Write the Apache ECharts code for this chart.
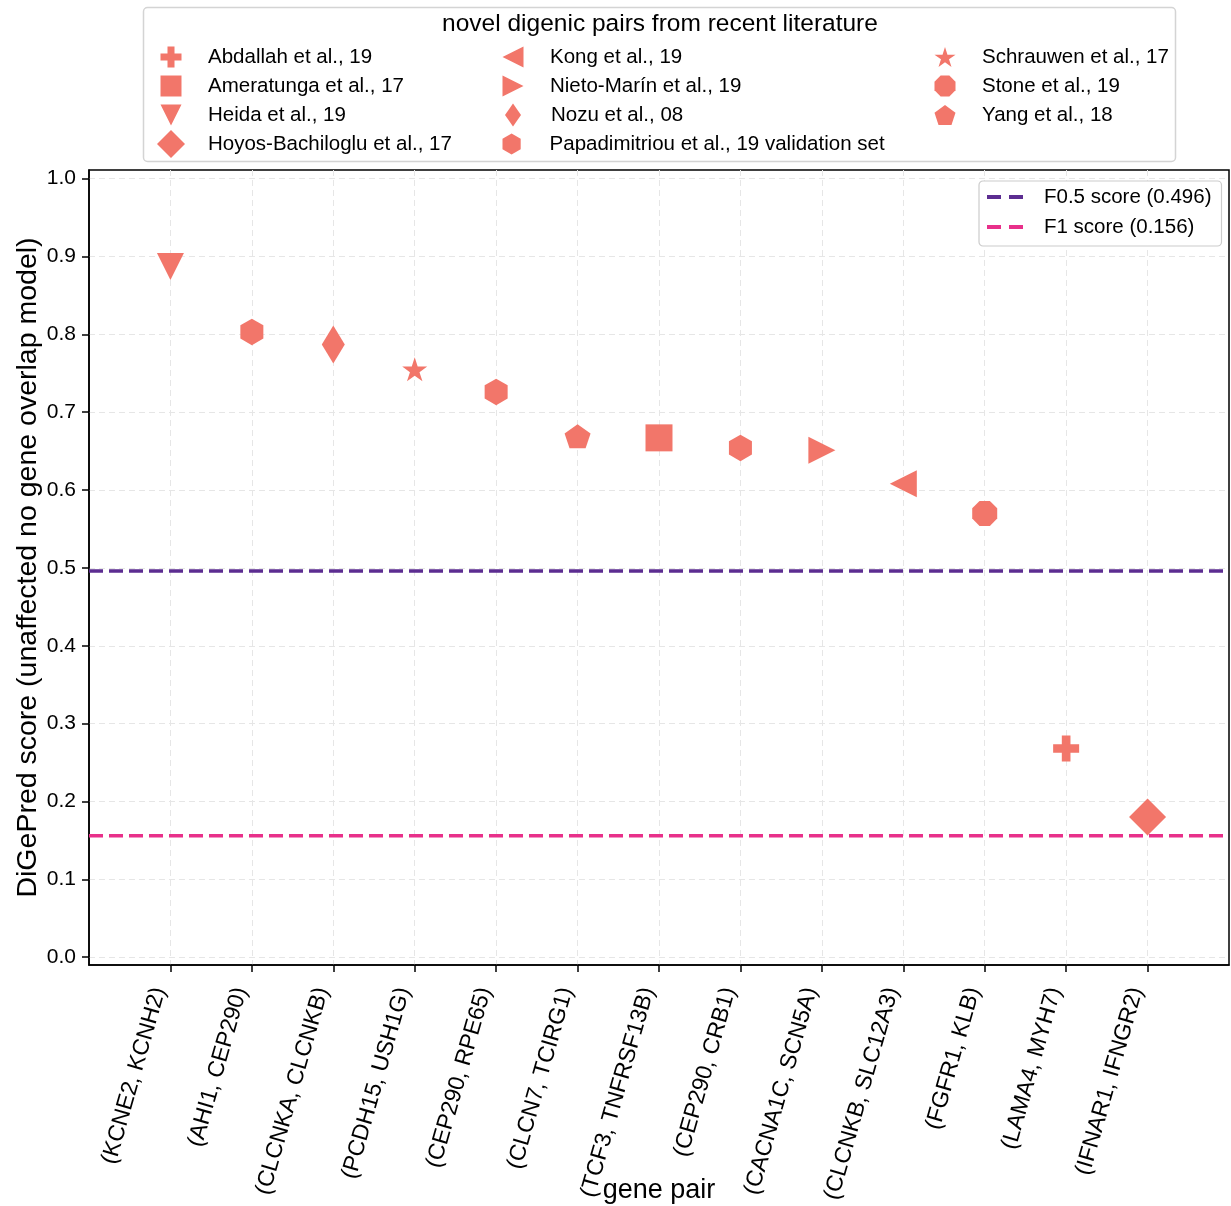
<!DOCTYPE html>
<html>
<head>
<meta charset="utf-8">
<script src="https://cdn.jsdelivr.net/npm/echarts@6/dist/echarts.min.js"></script>
<style>
html,body{margin:0;padding:0;background:#fff;}
#chart{width:1231px;height:1206px;}
</style>
</head>
<body>
<div id="chart"></div>
<script>
// ---- data ----
const genePairs = [
  '(KCNE2, KCNH2)', '(AHI1, CEP290)', '(CLCNKA, CLCNKB)', '(PCDH15, USH1G)',
  '(CEP290, RPE65)', '(CLCN7, TCIRG1)', '(TCF3, TNFRSF13B)', '(CEP290, CRB1)',
  '(CACNA1C, SCN5A)', '(CLCNKB, SLC12A3)', '(FGFR1, KLB)', '(LAMA4, MYH7)', '(IFNAR1, IFNGR2)'
];
const scores = [0.887, 0.803, 0.787, 0.755, 0.726, 0.669, 0.667, 0.654, 0.651, 0.608, 0.570, 0.268, 0.180];
const pointStudy = [
  'Heida et al., 19', 'Papadimitriou et al., 19 validation set', 'Nozu et al., 08', 'Schrauwen et al., 17',
  'Papadimitriou et al., 19 validation set', 'Yang et al., 18', 'Ameratunga et al., 17',
  'Papadimitriou et al., 19 validation set', 'Nieto-Marín et al., 19', 'Kong et al., 19',
  'Stone et al., 19', 'Abdallah et al., 19', 'Hoyos-Bachiloglu et al., 17'
];
const legendCol1 = ['Abdallah et al., 19', 'Ameratunga et al., 17', 'Heida et al., 19'];
const legendCol1b = ['Hoyos-Bachiloglu et al., 17'];
const legendCol2 = ['Kong et al., 19', 'Nieto-Marín et al., 19'];
const legendCol2b = ['Nozu et al., 08'];
const legendCol2c = ['Papadimitriou et al., 19 validation set'];
const legendCol3 = ['Schrauwen et al., 17', 'Stone et al., 19', 'Yang et al., 18'];
const thresholdNames = ['F0.5 score (0.496)', 'F1 score (0.156)'];
const thresholdValues = [0.496, 0.156];
const yTicks = [0, 0.1, 0.2, 0.3, 0.4, 0.5, 0.6, 0.7, 0.8, 0.9, 1.0];
const legendTitle = 'novel digenic pairs from recent literature';

// ---- styles ----
const FONT = "'Liberation Sans', Arial, Helvetica, sans-serif";
const MARKER = '#f2766a';
const LINE_COLORS = ['#5c2d91', '#e8308a'];
const LEG_FS = 20.5;
const symbols = {
  'Abdallah et al., 19': { path: 'path://M1,0H2V1H3V2H2V3H1V2H0V1H1Z', size: [26, 26] },
  'Ameratunga et al., 17': { path: 'path://M0,0H1V1H0Z', size: [27, 27] },
  'Heida et al., 19': { path: 'path://M0,0H2L1,2Z', size: [27, 27] },
  'Hoyos-Bachiloglu et al., 17': { path: 'path://M1,0L2,1L1,2L0,1Z', size: [37, 37] },
  'Kong et al., 19': { path: 'path://M0,1L2,0V2Z', size: [27, 27] },
  'Nieto-Marín et al., 19': { path: 'path://M0,0L2,1L0,2Z', size: [27, 27] },
  'Nozu et al., 08': { path: 'path://M0.6,0L1.2,1L0.6,2L0,1Z', size: [23, 38] },
  'Papadimitriou et al., 19 validation set': { path: 'path://M0.866,0L1.732,0.5V1.5L0.866,2L0,1.5V0.5Z', size: [23, 26.5] },
  'Schrauwen et al., 17': { path: 'path://M1,0L1.2245,0.691L1.951,0.691L1.363,1.118L1.588,1.809L1,1.382L0.412,1.809L0.637,1.118L0.049,0.691L0.7755,0.691Z', size: [25, 24] },
  'Stone et al., 19': { path: 'path://M0.541,0L1.307,0L1.848,0.541L1.848,1.307L1.307,1.848L0.541,1.848L0,1.307L0,0.541Z', size: [25, 25] },
  'Yang et al., 18': { path: 'path://M0.951,0L1.902,0.691L1.539,1.809L0.363,1.809L0,0.691Z', size: [26, 24] }
};

const studyOrder = legendCol1.concat(legendCol1b, legendCol2, legendCol2b, legendCol2c, legendCol3);
const scatterSeries = studyOrder.map(function (name) {
  const data = [];
  scores.forEach(function (v, i) { if (pointStudy[i] === name) data.push([i, v]); });
  return {
    name: name, type: 'scatter', data: data,
    symbol: symbols[name].path, symbolSize: symbols[name].size, symbolKeepAspect: false,
    itemStyle: { color: MARKER, opacity: 1 }, z: 3
  };
});
const lineSeries = thresholdNames.map(function (name, k) {
  return {
    name: name, type: 'line', data: [[-1, thresholdValues[k]], [13, thresholdValues[k]]],
    symbol: 'none', color: LINE_COLORS[k],
    lineStyle: { color: LINE_COLORS[k], width: 3.5, type: [14, 6] }, z: 4
  };
});

function scatterLegend(names, cx, cy, w, h, textLeft, keep) {
  return {
    show: true, orient: 'vertical', left: cx - w / 2, top: cy - h / 2, padding: 0,
    itemWidth: w, itemHeight: h, itemGap: 29 - h, selectedMode: false,
    symbolKeepAspect: keep,
    data: names.map(function (n) { return { name: n, icon: symbols[n].path }; }),
    itemStyle: { borderWidth: 0 },
    textStyle: { fontFamily: FONT, fontSize: LEG_FS, color: '#000', lineHeight: h, padding: [0, 0, 0, textLeft - (cx + w / 2) - 5] }
  };
}

const idx = genePairs.map(function (_, i) { return i; });
const chart = echarts.init(document.getElementById('chart'), null, { renderer: 'canvas' });
chart.setOption({
  animation: false,
  backgroundColor: '#fff',
  textStyle: { fontFamily: FONT },
  title: {
    text: legendTitle, left: 660, top: 12, textAlign: 'center', padding: 0,
    textStyle: { fontFamily: FONT, fontSize: 24.5, fontWeight: 'normal', color: '#000' }
  },
  graphic: [{
    type: 'rect', z: -1, silent: true,
    shape: { x: 143.5, y: 7.5, width: 1032, height: 154, r: 4 },
    style: { fill: '#fff', stroke: '#d4d4d4', lineWidth: 1.5 }
  }],
  legend: [
    scatterLegend(legendCol1, 171, 57, 21, 21, 208, true),
    scatterLegend(legendCol1b, 171, 144, 28, 28, 208, true),
    scatterLegend(legendCol2, 513, 57, 21, 21, 550, true),
    scatterLegend(legendCol2b, 513, 115, 16, 23, 551, false),
    scatterLegend(legendCol2c, 513, 144, 21, 21, 551, true),
    scatterLegend(legendCol3, 945, 57, 21, 21, 982, true),
    {
      show: true, orient: 'vertical', left: 979, top: 181, selectedMode: false,
      padding: [5, 10, 8, 8], itemWidth: 38, itemHeight: 4, itemGap: 8,
      backgroundColor: '#fff', borderColor: '#cccccc', borderWidth: 1.2, borderRadius: 4,
      data: thresholdNames.map(function (n, k) {
        return { name: n, icon: 'path://M0,0H14V4H0Z M22,0H36V4H22Z', itemStyle: { color: LINE_COLORS[k], borderWidth: 0 } };
      }),
      textStyle: { fontFamily: FONT, fontSize: LEG_FS, color: '#000', lineHeight: 22, padding: [0, 0, 0, 15] }
    }
  ],
  grid: {
    left: 89, right: 2, top: 170, bottom: 241, containLabel: false, outerBoundsMode: 'none',
    show: true, borderColor: '#000', borderWidth: 1.5, backgroundColor: 'transparent'
  },
  xAxis: {
    type: 'value', min: -1, max: 13,
    name: 'gene pair', nameLocation: 'middle', nameGap: 212, nameMoveOverlap: false,
    nameTextStyle: { fontFamily: FONT, fontSize: 27, color: '#000' },
    axisLine: { show: true, onZero: false, lineStyle: { color: '#000', width: 1.5 } },
    axisTick: { show: true, customValues: idx, length: 7, lineStyle: { color: '#000', width: 1.5 } },
    axisLabel: {
      customValues: idx, rotate: 74, margin: 26, align: 'right', verticalAlign: 'bottom',
      fontFamily: FONT, fontSize: 23, color: '#000',
      formatter: function (v) { return genePairs[Math.round(v)] || ''; }
    },
    splitLine: { show: true, lineStyle: { color: '#e6e6e6', width: 1, type: [6, 4] } }
  },
  yAxis: {
    type: 'value', min: -0.01, max: 1.011,
    name: 'DiGePred score (unaffected no gene overlap model)', nameLocation: 'middle', nameGap: 46,
    nameMoveOverlap: false,
    nameTextStyle: { fontFamily: FONT, fontSize: 28.5, color: '#000' },
    axisLine: { show: true, onZero: false, lineStyle: { color: '#000', width: 1.5 } },
    axisTick: { show: true, customValues: yTicks, length: 7, lineStyle: { color: '#000', width: 1.5 } },
    axisLabel: {
      customValues: yTicks, margin: 13, fontFamily: FONT, fontSize: 21, color: '#000',
      formatter: function (v) { return v.toFixed(1); }
    },
    splitLine: { show: true, lineStyle: { color: '#e6e6e6', width: 1, type: [6, 4] } }
  },
  series: scatterSeries.concat(lineSeries)
});
</script>
</body>
</html>
